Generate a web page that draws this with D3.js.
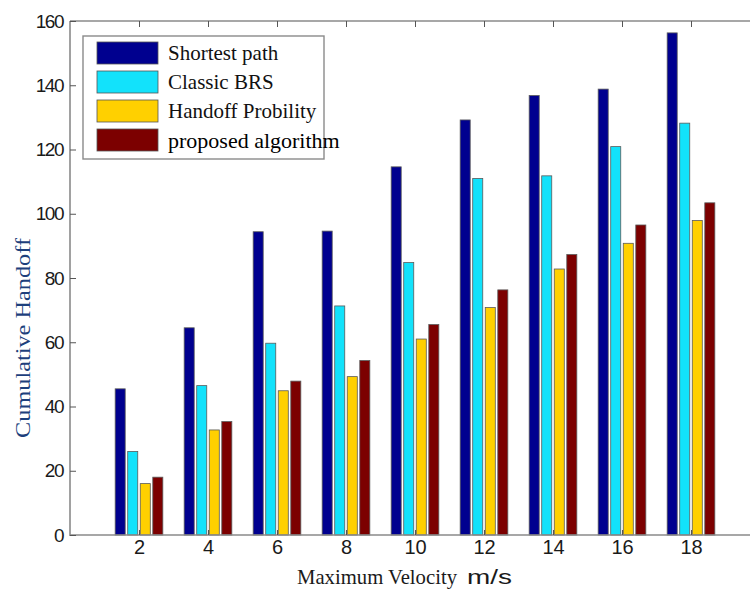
<!DOCTYPE html>
<html>
<head>
<meta charset="utf-8">
<script src="https://cdn.jsdelivr.net/npm/d3@7"></script>
<style>
  body { margin: 0; background: #fff; }
  svg { display: block; }
</style>
</head>
<body>
<div id="chart"></div>
<script>
// chart data
const velocities = [2, 4, 6, 8, 10, 12, 14, 16, 18];
const seriesNames = ['Shortest path', 'Classic BRS', 'Handoff Probility', 'proposed algorithm'];
const shortestPath = [45.5, 64.5, 94.4, 94.6, 114.6, 129.2, 136.8, 138.8, 156.3];
const classicBRS = [26, 46.5, 59.7, 71.3, 84.8, 111, 111.8, 120.9, 128.2];
const handoffProb = [16, 32.7, 44.9, 49.3, 61, 70.8, 82.8, 90.8, 97.9];
const proposedAlg = [18, 35.3, 47.9, 54.3, 65.5, 76.3, 87.3, 96.5, 103.4];
const yTicks = [0, 20, 40, 60, 80, 100, 120, 140, 160];
const colors = ['#00008f', '#12e2fb', '#ffd000', '#7c0000'];

const allSeries = [shortestPath, classicBRS, handoffProb, proposedAlg];

const W = 750, H = 590;
const plotLeft = 70, plotTop = 21, plotBottom = 535;

const svg = d3.select('#chart')
  .append('svg')
  .attr('width', W)
  .attr('height', H);

// x axis runs 0..20, right end falls outside the picture
const xScale = d3.scaleLinear().domain([0, 20]).range([plotLeft, 760]);
const yScale = d3.scaleLinear().domain([0, 160]).range([plotBottom, plotTop]);

// MATLAB-like grouped bars: group width ~0.727 of the spacing
const step = xScale(2) - xScale(0);
const half = step * 0.727 / 2;
const sub = d3.scaleBand()
  .domain(d3.range(seriesNames.length))
  .range([-half, half])
  .paddingInner(0.2)
  .paddingOuter(0.1);

// bars
const groups = svg.append('g')
  .selectAll('g')
  .data(velocities)
  .enter()
  .append('g')
  .attr('transform', d => 'translate(' + xScale(d) + ',0)');

groups.selectAll('rect')
  .data((d, i) => allSeries.map((s, k) => ({ k: k, v: s[i] })))
  .enter()
  .append('rect')
  .attr('x', d => sub(d.k))
  .attr('width', sub.bandwidth())
  .attr('y', d => yScale(d.v))
  .attr('height', d => yScale(0) - yScale(d.v))
  .attr('fill', d => colors[d.k])
  .attr('stroke', '#5a5a5a')
  .attr('stroke-width', 0.8);

// axes
const axisColor = '#8a8a8a';

const xAxis = d3.axisBottom(xScale)
  .tickValues(velocities)
  .tickSize(-5)
  .tickPadding(10)
  .tickFormat(d3.format('d'));
const gx = svg.append('g')
  .attr('transform', 'translate(0,' + plotBottom + ')')
  .call(xAxis);

const xTop = d3.axisTop(xScale)
  .tickValues(velocities)
  .tickSize(-6)
  .tickFormat('');
const gxTop = svg.append('g')
  .attr('transform', 'translate(0,' + plotTop + ')')
  .call(xTop);

const yAxis = d3.axisLeft(yScale)
  .tickValues(yTicks)
  .tickSize(-6)
  .tickPadding(7)
  .tickFormat(d3.format('d'));
const gy = svg.append('g')
  .attr('transform', 'translate(' + plotLeft + ',0)')
  .call(yAxis);

[gx, gxTop, gy].forEach(g => {
  g.select('.domain')
    .attr('stroke', axisColor)
    .attr('stroke-width', 1.6)
    .attr('d', g === gy
      ? 'M0,' + (plotBottom + 1) + 'V' + plotTop
      : 'M' + plotLeft + ',0H' + W);
  g.selectAll('.tick line').attr('stroke', '#555').attr('stroke-width', 1);
});

gx.selectAll('.tick text')
  .attr('font-family', 'Liberation Sans, Arial, sans-serif')
  .attr('font-size', 20)
  .attr('fill', '#1a1a1a')
  .attr('dy', '0.45em');

gy.selectAll('.tick text')
  .attr('font-family', 'Liberation Sans, Arial, sans-serif')
  .attr('font-size', 19)
  .attr('letter-spacing', -1.5)
  .attr('fill', '#1a1a1a');

// axis titles
svg.append('text')
  .attr('transform', 'translate(30,338) rotate(-90)')
  .attr('text-anchor', 'middle')
  .attr('font-family', 'Liberation Serif, Times New Roman, serif')
  .attr('font-size', 21)
  .attr('textLength', 200)
  .attr('lengthAdjust', 'spacingAndGlyphs')
  .attr('fill', '#1d3f7c')
  .text('Cumulative Handoff');

svg.append('text')
  .attr('x', 297)
  .attr('y', 584)
  .attr('font-family', 'Liberation Serif, Times New Roman, serif')
  .attr('font-size', 21)
  .attr('textLength', 160)
  .attr('lengthAdjust', 'spacingAndGlyphs')
  .attr('fill', '#1a1a1a')
  .text('Maximum Velocity');

svg.append('text')
  .attr('x', 467)
  .attr('y', 584)
  .attr('font-family', 'Liberation Sans, Arial, sans-serif')
  .attr('font-size', 21)
  .attr('textLength', 45)
  .attr('lengthAdjust', 'spacingAndGlyphs')
  .attr('fill', '#1a1a1a')
  .text('m/s');

// legend
const legend = svg.append('g').attr('transform', 'translate(83,36)');
legend.append('rect')
  .attr('width', 241)
  .attr('height', 123)
  .attr('fill', '#fff')
  .attr('stroke', '#8a8a8a')
  .attr('stroke-width', 1.4);

const rows = legend.selectAll('g.row')
  .data(seriesNames)
  .enter()
  .append('g')
  .attr('class', 'row')
  .attr('transform', (d, i) => 'translate(14,' + (6 + i * 29) + ')');

rows.append('rect')
  .attr('width', 61)
  .attr('height', 22)
  .attr('fill', (d, i) => colors[i])
  .attr('stroke', '#555')
  .attr('stroke-width', 0.8);

rows.append('text')
  .attr('x', 71)
  .attr('y', 11)
  .attr('dy', '0.35em')
  .attr('font-family', 'Liberation Serif, Times New Roman, serif')
  .attr('font-size', 21)
  .attr('fill', '#111')
  .text(d => d);

// last entry runs past the box edge in the picture, on a white backing
const last = rows.filter((d, i) => i === 3);
last.select('text')
  .attr('font-size', 22)
  .attr('fill', '#000');
last.insert('rect', 'text')
  .attr('x', 230)
  .attr('y', -2)
  .attr('width', 20)
  .attr('height', 26)
  .attr('fill', '#fff');
</script>
</body>
</html>
